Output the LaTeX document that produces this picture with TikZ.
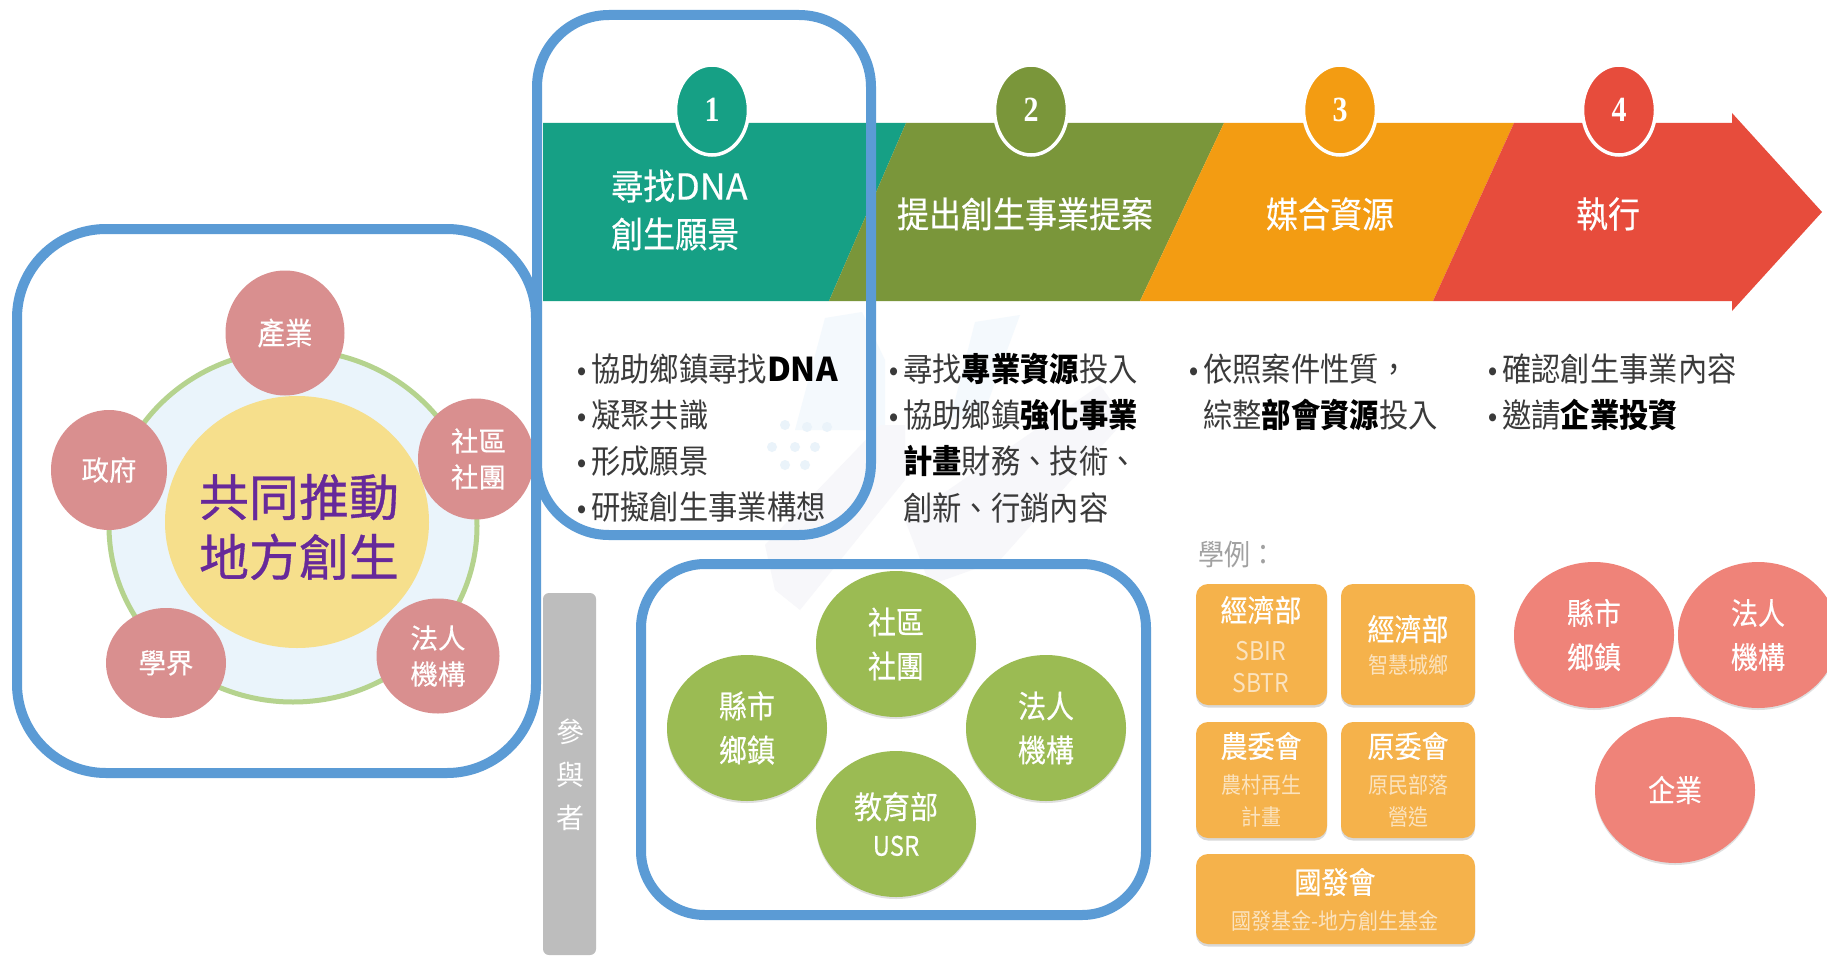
\documentclass[tikz,border=0pt]{standalone}
\usepackage{fontspec}
\usepackage{graphicx}
\setmainfont{Noto Sans CJK TC}
\newfontfamily\medf[FakeBold=0.35]{Noto Sans CJK TC}
\newfontfamily\heavyf[FakeBold=0.7]{Noto Sans CJK TC}
\newfontfamily\numfont{Liberation Serif}
\newfontfamily\bulfont{Liberation Sans}
\usetikzlibrary{shapes.geometric,shadows}
\definecolor{blueline}{HTML}{5B9BD5}
\definecolor{teal1}{HTML}{16A085}
\definecolor{olive1}{HTML}{7A963A}
\definecolor{orange1}{HTML}{F39C12}
\definecolor{red1}{HTML}{E74C3C}
\definecolor{pinkc}{HTML}{D98F8F}
\definecolor{greenc}{HTML}{9BBB53}
\definecolor{salmon}{HTML}{EF8379}
\definecolor{amber}{HTML}{F5B24B}
\definecolor{paletxt}{HTML}{FBE3BF}
\definecolor{bodytxt}{HTML}{3A3A3A}
\definecolor{ringline}{HTML}{B5D38E}
\definecolor{ringfill}{HTML}{EAF4FB}
\definecolor{sunny}{HTML}{F6DF8C}
\definecolor{purp}{HTML}{67299A}
\definecolor{greybar}{HTML}{BDBDBD}
\definecolor{wmblue}{HTML}{F4F9FD}
\definecolor{wmdot}{HTML}{EAF3FA}
\definecolor{wmgrey}{HTML}{F7F7FA}
\newcommand{\tl}[1]{\scalebox{1}[1.12]{#1}}
\newcommand{\ta}[1]{\scalebox{1}[1.18]{#1}}
\newcommand{\widen}[1]{\scalebox{1.12}[1]{#1}}
\newcommand{\bul}{\makebox[14pt][l]{\bulfont\fontsize{26}{26}\selectfont •}}
\newcommand{\nob}{\hspace*{14pt}}
\newcommand{\bd}[1]{{\bfseries\color{black}#1}}
\tikzset{
  bluebox/.style={draw=blueline,line width=10pt},
  numc/.style={ellipse,draw=white,line width=3.5pt,minimum width=73pt,minimum height=90pt,inner sep=0pt,text=white,
    font=\numfont\bfseries\fontsize{30}{30}\selectfont,drop shadow={shadow xshift=1pt,shadow yshift=-2pt,opacity=.35}},
  head/.style={text=white,font=\medf\fontsize{32}{48}\selectfont,align=left,inner sep=0pt},
  body/.style={anchor=west,inner sep=0pt,text=bodytxt,align=left,font=\fontsize{29.3}{46.2}\selectfont},
  pinkb/.style={ellipse,fill=pinkc,text=white,inner sep=0pt,align=center,font=\medf\fontsize{27.5}{36}\selectfont},
  greenb/.style={ellipse,fill=greenc,minimum width=160pt,minimum height=146pt,inner sep=0pt,text=white,align=center,
    font=\medf\fontsize{28}{44}\selectfont,drop shadow={shadow xshift=0pt,shadow yshift=-2pt,opacity=.25}},
  salmonb/.style={ellipse,fill=salmon,minimum width=160pt,minimum height=146pt,inner sep=0pt,text=white,align=center,
    font=\medf\fontsize{27}{44}\selectfont,drop shadow={shadow xshift=0pt,shadow yshift=-2pt,opacity=.25}},
  amberb/.style={rounded corners=12pt,fill=amber,inner sep=0pt,drop shadow={shadow xshift=0pt,shadow yshift=-2.5pt,opacity=.3}},
  amtit/.style={text=white,inner sep=0pt,font=\medf\fontsize{27}{27}\selectfont},
  amsub/.style={text=paletxt,inner sep=0pt,font=\fontsize{20}{20}\selectfont},
}
\begin{document}
\begin{tikzpicture}[x=1pt,y=-1pt]
\useasboundingbox (0,0) rectangle (1827,955);
\fill[white] (0,0) rectangle (1827,955);
% watermark
\fill[wmblue] (825,318) -- (862,312) -- (885,360) -- (885,430) -- (795,430) -- cycle;
\fill[wmblue] (975,322) -- (1020,315) -- (985,410) -- (950,420) -- cycle;
\foreach \px/\py in {785/425,807/427,827/427,772/447,795/447,815/447,785/465,805/465}
  \fill[wmdot] (\px,\py) circle [radius=5];
\fill[wmgrey] (765,545) -- (880,425) -- (905,425) -- (905,480) -- (800,610) -- (775,590) -- cycle;
\fill[wmgrey] (905,520) -- (1100,385) -- (1125,420) -- (1000,560) -- (930,585) -- cycle;
% arrow band
\fill[teal1] (543,123) -- (906,123) -- (829,301) -- (543,301) -- cycle;
\fill[olive1] (906,123) -- (1224,123) -- (1140,301) -- (829,301) -- cycle;
\fill[orange1] (1224,123) -- (1514,123) -- (1433,301) -- (1140,301) -- cycle;
\fill[red1] (1514,123) -- (1732,123) -- (1732,113) -- (1822,212) -- (1732,311) -- (1732,301) -- (1433,301) -- cycle;
\node[numc,fill=teal1] (n1) at (712,110) {\ta{1}};
\node[numc,fill=olive1] (n2) at (1031,110) {\ta{2}};
\node[numc,fill=orange1] (n3) at (1340,110) {\ta{3}};
\node[numc,fill=red1] (n4) at (1619,110) {\ta{4}};
\node[head,anchor=west] (h1) at (611,210) {\tl{尋找\widen{DNA}}\\\tl{創生願景}};
\node[head] (h2) at (1025,214) {\tl{提出創生事業提案}};
\node[head] (h3) at (1330,214) {\tl{媒合資源}};
\node[head] (h4) at (1608,214) {\tl{執行}};
% body texts
\node[body] (b1) at (577,438) {\tl{\bul 協助鄉鎮尋找\bd{\widen{DNA}}}\\\tl{\bul 凝聚共識}\\\tl{\bul 形成願景}\\\tl{\bul 研擬創生事業構想}};
\node[body] (b2) at (889,438) {\tl{\bul 尋找\bd{專業資源}投入}\\\tl{\bul 協助鄉鎮\bd{強化事業}}\\\tl{\nob\bd{計畫}財務、技術、}\\\tl{\nob 創新、行銷內容}};
\node[body] (b3) at (1189,392) {\tl{\bul 依照案件性質，}\\\tl{\nob 綜整\bd{部會資源}投入}};
\node[body] (b4) at (1488,392) {\tl{\bul 確認創生事業內容}\\\tl{\bul 邀請\bd{企業投資}}};
% left diagram
\draw[draw=ringline,fill=ringfill,line width=5pt] (293,526) ellipse [x radius=184,y radius=176];
\node[ellipse,fill=sunny,minimum width=264pt,minimum height=252pt,inner sep=0pt] (cen) at (297,522) {};
\node[text=purp,inner sep=0pt,align=center,font=\heavyf\fontsize{50}{60}\selectfont] (centxt) at (299,527) {共同推動\\地方創生};
\node[pinkb,minimum width=119pt,minimum height=125pt] (p1) at (285,333) {\tl{產業}};
\node[pinkb,minimum width=116pt,minimum height=121pt] (p2) at (476,459) {\hspace*{5pt}社區\\\hspace*{5pt}社團};
\node[pinkb,minimum width=123pt,minimum height=115pt] (p3) at (438,656) {法人\\機構};
\node[pinkb,minimum width=120pt,minimum height=110pt] (p4) at (166,663) {學界};
\node[pinkb,minimum width=116pt,minimum height=120pt] (p5) at (109,470) {政府};
% grey bar
\fill[greybar,rounded corners=6pt] (543,955) -- (543,593) -- (596,593) -- (596,955) -- cycle;
\node[text=white,inner sep=0pt,align=center,font=\fontsize{28}{43}\selectfont] (g) at (570,775) {參\\與\\者};
% green circles
\node[greenb] (g1) at (896,644) {\tl{社區}\\\tl{社團}};
\node[greenb] (g2) at (747,728) {\tl{縣市}\\\tl{鄉鎮}};
\node[greenb] (g3) at (1046,728) {\tl{法人}\\\tl{機構}};
\node[greenb] (g4) at (896,824) {\tl{教育部}\\[-7pt]{\fontsize{24}{24}\selectfont\tl{USR}}};
% examples
\node[anchor=west,inner sep=0pt,text=greybar!85!black,font=\fontsize{26}{26}\selectfont] (ex) at (1198,555) {\tl{學例：}};
\path[amberb] (1196,584) rectangle (1327,705);
\path[amberb] (1341,584) rectangle (1475,705);
\path[amberb] (1196,722) rectangle (1327,838);
\path[amberb] (1341,722) rectangle (1475,838);
\path[amberb] (1196,854) rectangle (1475,944);
\node[amtit] (a1) at (1261,610) {\tl{經濟部}};
\node[amsub,font=\fontsize{23}{23}\selectfont] (a1s) at (1261,651) {\tl{SBIR}};
\node[amsub,font=\fontsize{23}{23}\selectfont] (a1t) at (1261,683) {\tl{SBTR}};
\node[amtit] (a2) at (1408,629) {\tl{經濟部}};
\node[amsub] (a2s) at (1408,665) {\tl{智慧城鄉}};
\node[amtit] (a3) at (1261,746) {\tl{農委會}};
\node[amsub] (a3s) at (1261,785) {\tl{農村再生}};
\node[amsub] (a3t) at (1261,817) {\tl{計畫}};
\node[amtit] (a4) at (1408,746) {\tl{原委會}};
\node[amsub] (a4s) at (1408,785) {\tl{原民部落}};
\node[amsub] (a4t) at (1408,817) {\tl{營造}};
\node[amtit] (a5) at (1335,882) {\tl{國發會}};
\node[amsub] (a5s) at (1335,921) {\tl{國發基金-地方創生基金}};
% salmon circles
\node[salmonb] (s1) at (1594,635) {\tl{縣市}\\\tl{鄉鎮}};
\node[salmonb] (s2) at (1758,635) {\tl{法人}\\\tl{機構}};
\node[salmonb] (s3) at (1675,790) {\tl{企業}};
% blue frames
\draw[bluebox,rounded corners=89pt] (17,229) rectangle (536,773);
\draw[bluebox,rounded corners=72pt] (537,15) rectangle (871,535);
\draw[bluebox,rounded corners=64pt] (641,564) rectangle (1146,915);
\end{tikzpicture}
\end{document}
